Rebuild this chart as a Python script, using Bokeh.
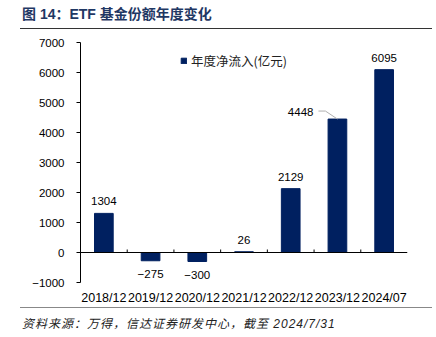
from bokeh.plotting import figure
from bokeh.models import (ColumnDataSource, Range1d, FixedTicker, Span, Legend,
                          LegendItem, Div)
from bokeh.layouts import column
from bokeh.core.properties import value
from bokeh.embed import file_html
from bokeh.resources import INLINE

# ---- data ----
categories = ["2018/12", "2019/12", "2020/12", "2021/12", "2022/12", "2023/12", "2024/07"]
net_inflow = [1304, -275, -300, 26, 2129, 4448, 6095]
y_ticks = [-1000, 0, 1000, 2000, 3000, 4000, 5000, 6000, 7000]
series_name = "年度净流入(亿元)"
title_text = "图 14：ETF 基金份额年度变化"
source_text = "资料来源：万得，信达证券研发中心，截至 2024/7/31"

BAR = "#002060"
NUM_FONT = "Liberation Sans"
CJK_FONT = "Noto Sans CJK SC"

def fmt(v):
    return str(v).replace("-", "\u2212")

xs = list(range(len(categories)))
PX_PER_Y = 240 / (y_ticks[-1] - y_ticks[0])  # pixels per data unit

p = figure(width=436, height=276, output_backend="svg", toolbar_location=None,
           x_range=Range1d(-0.5, len(categories) - 0.5),
           y_range=Range1d(y_ticks[0], y_ticks[-1]),
           min_border_left=80, min_border_right=29, min_border_top=11,
           min_border_bottom=25)
p.outline_line_color = None
p.xgrid.visible = False
p.ygrid.visible = False
p.background_fill_color = "white"
p.border_fill_color = "white"

src = ColumnDataSource(dict(x=xs, top=net_inflow,
                            label=[fmt(v) for v in net_inflow]))
bars = p.vbar(x="x", top="top", width=0.4, source=src, fill_color=BAR,
              line_color=BAR)

# zero line + small upward ticks at category boundaries
p.add_layout(Span(location=0, dimension="width", line_color="black", line_width=1))
bx = [i + 0.5 for i in xs[:-1]]
p.segment(x0=bx, y0=[0] * len(bx), x1=bx, y1=[3 / PX_PER_Y] * len(bx),
          line_color="black", line_width=1)

# data labels
pos = [i for i, v in enumerate(net_inflow) if v >= 0 and i != 5]
neg = [i for i, v in enumerate(net_inflow) if v < 0]
p.text(x=[xs[i] for i in pos], y=[net_inflow[i] for i in pos],
       text=[fmt(net_inflow[i]) for i in pos], text_align="center",
       text_baseline="bottom", y_offset=-8, text_font=value(NUM_FONT),
       text_font_size="11.5px", text_color="black")
p.text(x=[xs[i] for i in neg], y=[net_inflow[i] for i in neg],
       text=[fmt(net_inflow[i]) for i in neg], text_align="center",
       text_baseline="top", y_offset=9, text_font=value(NUM_FONT),
       text_font_size="11.5px", text_color="black")
# 4448 label with leader line
i5 = 5
v5 = net_inflow[i5]
p.text(x=[xs[i5]], y=[v5], text=[fmt(v5)], text_align="right",
       text_baseline="middle", x_offset=-24, y_offset=-7,
       text_font=value(NUM_FONT), text_font_size="11.5px", text_color="black")
dx = 1 / 46.7
p.line(x=[xs[i5] - 19 * dx, xs[i5] - 12 * dx, xs[i5]],
       y=[v5 + 8 / PX_PER_Y, v5 + 8 / PX_PER_Y, v5],
       line_color="#b0b0b0", line_width=1)

# axes
p.yaxis.ticker = FixedTicker(ticks=y_ticks)
p.yaxis.major_label_overrides = {t: fmt(t) for t in y_ticks if t < 0}
p.yaxis.minor_tick_line_color = None
p.yaxis.major_tick_out = 4
p.yaxis.major_tick_in = 0
p.yaxis.axis_line_color = "black"
p.yaxis.major_tick_line_color = "black"
p.yaxis.major_label_text_font = NUM_FONT
p.yaxis.major_label_text_font_size = "11.5px"
p.yaxis.major_label_text_color = "black"
p.yaxis.major_label_standoff = 12

p.xaxis.ticker = FixedTicker(ticks=xs)
p.xaxis.major_label_overrides = {i: c for i, c in zip(xs, categories)}
p.xaxis.axis_line_color = None
p.xaxis.major_tick_line_color = None
p.xaxis.minor_tick_line_color = None
p.xaxis.major_tick_out = 0
p.xaxis.major_tick_in = 0
p.xaxis.major_label_standoff = 8
p.xaxis.major_label_text_font = NUM_FONT
p.xaxis.major_label_text_font_size = "12.5px"
p.xaxis.major_label_text_color = "black"

legend = Legend(items=[LegendItem(label=series_name, renderers=[bars])],
                location=(100, 212), orientation="vertical",
                glyph_width=7, glyph_height=7, label_standoff=4,
                padding=0, margin=0, spacing=0,
                border_line_color=None, background_fill_alpha=0,
                label_text_font=CJK_FONT, label_text_font_size="12.5px",
                label_text_color="#222222")
p.add_layout(legend)

title_div = Div(
    text=(f'<div style="margin-left:20px;width:412px;height:29px;'
          f'border-bottom:1.5px solid #333;box-sizing:border-box;'
          f'padding-left:2px;font-family:\'Liberation Sans\',\'{CJK_FONT}\';'
          f'font-weight:bold;font-size:14px;color:#1f3864;line-height:28px;'
          f'white-space:nowrap;">{title_text}</div>'),
    width=436, height=31, margin=0)

foot_div = Div(
    text=(f'<div style="margin-left:20px;width:412px;height:29px;'
          f'border-top:1.5px solid #888;box-sizing:border-box;'
          f'padding-left:2px;padding-top:9px;font-family:\'Liberation Sans\',\'{CJK_FONT}\';'
          f'font-style:italic;font-size:12px;color:#222;line-height:14px;'
          f'letter-spacing:1px;white-space:nowrap;">{source_text}</div>'),
    width=436, height=30, margin=0)

layout = column(title_div, p, foot_div, spacing=0, margin=0)

open("out.html", "w").write(file_html(layout, INLINE))
